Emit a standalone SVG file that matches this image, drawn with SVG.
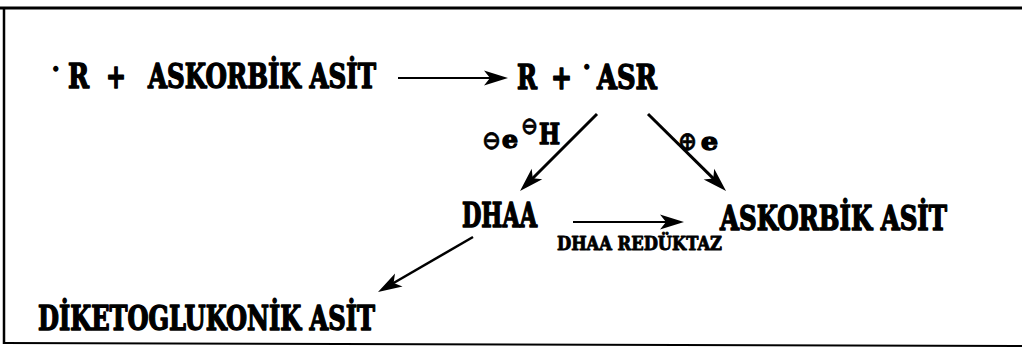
<svg xmlns="http://www.w3.org/2000/svg" width="1022" height="349" viewBox="0 0 1022 349">
<style>
.t{font-family:"DejaVu Serif Condensed","DejaVu Serif","Liberation Serif",serif;font-weight:bold;fill:#000;stroke:#000;stroke-width:1.4;stroke-linejoin:round}
.big{font-size:33px}
.sm{font-size:19px;stroke-width:0.9}
.sym{font-family:"DejaVu Sans","Liberation Sans",sans-serif;font-weight:bold;fill:#000;stroke:#000;stroke-width:0.6}
.ln{stroke:#000;fill:none}
</style>
<defs>
<marker id="ah" markerUnits="userSpaceOnUse" orient="auto" refX="0" refY="0" overflow="visible" markerWidth="30" markerHeight="20">
<path d="M12,0 L-12,-7.5 L-6,0 L-12,7.5 Z" fill="#000"/>
</marker>
</defs>
<rect width="1022" height="349" fill="#fff"/>
<g id="frame">
<line class="ln" x1="0" y1="8" x2="1022" y2="8" stroke-width="3"/>
<line class="ln" x1="4" y1="7" x2="4" y2="344" stroke-width="2.5"/>
<line class="ln" x1="3" y1="343" x2="1022" y2="346" stroke-width="2" stroke="#333"/>
</g>
<g id="reactants">
<text class="t" x="52" y="77" font-size="24">·</text>
<text class="t big" x="68" y="88" textLength="21" lengthAdjust="spacingAndGlyphs">R</text>
<text class="t big" x="106" y="88" textLength="20" lengthAdjust="spacingAndGlyphs">+</text>
<text class="t big" x="148" y="88" textLength="228" lengthAdjust="spacingAndGlyphs">ASKORBİK ASİT</text>
</g>
<g id="products">
<text class="t big" x="517" y="89" textLength="20" lengthAdjust="spacingAndGlyphs">R</text>
<text class="t big" x="551" y="89" textLength="21" lengthAdjust="spacingAndGlyphs">+</text>
<text class="t" x="583" y="75" font-size="24">·</text>
<text class="t big" x="597" y="89" textLength="60" lengthAdjust="spacingAndGlyphs">ASR</text>
</g>
<g id="label-minus">
<text class="sym" x="482" y="149" font-size="26" textLength="19" lengthAdjust="spacingAndGlyphs">⊖</text>
<text class="t" x="502" y="148" font-size="25" textLength="16" lengthAdjust="spacingAndGlyphs">e</text>
<text class="sym" x="521" y="134" font-size="24" textLength="17" lengthAdjust="spacingAndGlyphs">⊖</text>
<text class="t" x="539" y="144" font-size="28" textLength="21" lengthAdjust="spacingAndGlyphs">H</text>
</g>
<g id="label-plus">
<text class="sym" x="678" y="150" font-size="26" textLength="19" lengthAdjust="spacingAndGlyphs">⊕</text>
<text class="t" x="701" y="150" font-size="25" textLength="17" lengthAdjust="spacingAndGlyphs">e</text>
</g>
<g id="dhaa">
<text class="t big" x="462" y="227" textLength="75" lengthAdjust="spacingAndGlyphs">DHAA</text>
</g>
<g id="askorbik2">
<text class="t big" x="720" y="230" textLength="227" lengthAdjust="spacingAndGlyphs">ASKORBİK ASİT</text>
</g>
<g id="enzyme">
<text class="t sm" x="557" y="250" textLength="165" lengthAdjust="spacingAndGlyphs">DHAA REDÜKTAZ</text>
</g>
<g id="diketo">
<text class="t big" x="38" y="330" textLength="337" lengthAdjust="spacingAndGlyphs">DİKETOGLUKONİK ASİT</text>
</g>
<g id="connectors">
<line class="ln" x1="398" y1="78" x2="496" y2="78" stroke-width="2" marker-end="url(#ah)"/>
<line class="ln" x1="597" y1="114" x2="528.5" y2="182.5" stroke-width="3" marker-end="url(#ah)"/>
<line class="ln" x1="648" y1="114" x2="717.5" y2="182.6" stroke-width="3" marker-end="url(#ah)"/>
<line class="ln" x1="573" y1="222" x2="672" y2="222" stroke-width="2" marker-end="url(#ah)"/>
<line class="ln" x1="473" y1="237" x2="388.4" y2="286" stroke-width="2.5" marker-end="url(#ah)"/>
</g>
</svg>
